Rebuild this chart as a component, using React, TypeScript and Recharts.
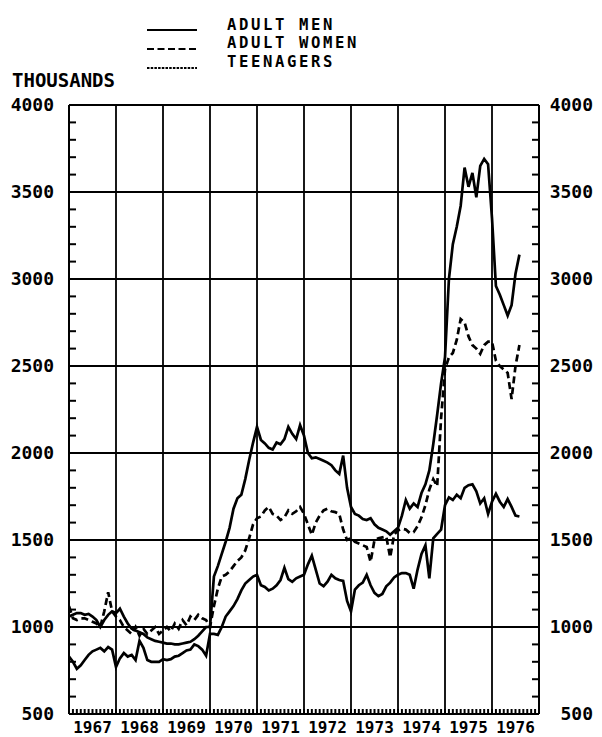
import { LineChart, Line, XAxis, YAxis, ReferenceLine } from "recharts";

// monthly series, Jan 1967 .. Aug 1976 (thousands)
const START_YEAR = 1967;
const END_YEAR = 1977;

const ADULT_MEN = [
  1060, 1070, 1080, 1080, 1070, 1075, 1060, 1040, 1000, 1040, 1070, 1090,
  1080, 1105, 1060, 1020, 990, 980, 970, 960, 940, 930, 920, 915,
  910, 905, 905, 900, 900, 905, 910, 915, 930, 950, 975, 1000,
  1000, 1290, 1350, 1420, 1490, 1570, 1680, 1740, 1760, 1850, 1960, 2060,
  2150, 2075, 2055, 2030, 2020, 2060, 2050, 2080, 2150, 2110, 2080, 2160,
  2100, 2000, 1970, 1975, 1965, 1955, 1945, 1930, 1900, 1880, 1985, 1800,
  1690, 1650, 1640, 1620, 1615, 1625, 1590, 1570, 1560, 1550, 1530, 1550,
  1570, 1640, 1730, 1680, 1710, 1690, 1770, 1820, 1900, 2050, 2220, 2400,
  2550, 3000, 3200, 3300, 3420, 3640, 3530, 3610, 3470, 3650, 3690, 3660,
  3350, 2960, 2910, 2850, 2790, 2850, 3030, 3140,
];

const ADULT_WOMEN = [
  1120, 1050, 1040, 1050, 1050, 1040, 1030, 1020, 1000, 1090, 1200, 1090,
  1060, 1040, 1000, 980, 960, 1000, 950, 990, 960, 980, 1000, 960,
  980, 1000, 975, 1020, 990, 1040, 1010, 1060, 1040, 1070, 1050, 1040,
  1000, 1120, 1220, 1290, 1300, 1320, 1350, 1380, 1400, 1440, 1510, 1590,
  1625, 1635, 1670, 1690, 1650, 1640, 1615, 1630, 1670, 1650, 1665, 1690,
  1650, 1590, 1530, 1600, 1640, 1670, 1680, 1665, 1660, 1650, 1560, 1500,
  1510, 1490, 1480, 1470, 1460, 1375, 1500, 1510, 1515, 1520, 1400, 1530,
  1555, 1565, 1560, 1540, 1545, 1580, 1630, 1700, 1790, 1850, 1810, 2200,
  2480, 2550, 2575, 2650, 2770, 2750, 2670, 2620, 2600, 2570, 2620, 2640,
  2640, 2530, 2500, 2480, 2460, 2310, 2500, 2620,
];

const TEENAGERS = [
  830, 800, 760, 780, 810, 840, 860, 870, 880, 860, 885, 870,
  770, 820, 850, 830, 840, 810, 920, 880, 810, 800, 800, 800,
  815, 810, 815, 830, 835, 850, 865, 870, 900, 890, 870, 835,
  960, 960, 955, 1000, 1060, 1090, 1120, 1160, 1210, 1250, 1270, 1290,
  1300, 1240, 1230, 1210, 1220, 1240, 1270, 1340, 1275, 1260, 1280, 1290,
  1300, 1360, 1410, 1330, 1250, 1235, 1260, 1300, 1280, 1270, 1265, 1150,
  1090, 1215, 1240, 1255, 1300, 1240, 1196, 1177, 1190, 1234, 1255, 1285,
  1300, 1310, 1310, 1300, 1220, 1330, 1420, 1470, 1280, 1510, 1535, 1560,
  1700, 1745, 1730, 1760, 1740, 1800, 1815, 1820, 1780, 1710, 1740, 1650,
  1720, 1765, 1720, 1690, 1735, 1690, 1640, 1635,
];

const YEAR_LINES = [1968, 1969, 1970, 1971, 1972, 1973, 1974, 1975, 1976];
const VALUE_LINES = [1000, 1500, 2000, 2500, 3000, 3500, 4000];
const Y_MIN = 500;
const Y_MAX = 4000;

const LEGEND = [
  { label: "ADULT MEN", dash: undefined },
  { label: "ADULT WOMEN", dash: "7 3.5" },
  { label: "TEENAGERS", dash: "2.5 1.2" },
];

const FONT = "'DejaVu Sans Mono', 'Liberation Mono', monospace";

// inward tick lengths in px (negative = pointing into the plot)
const SIDE_TICK = -7;
const MONTH_TICK = -5;

const data = ADULT_MEN.map((men, i) => ({
  t: START_YEAR + i / 12,
  men,
  women: ADULT_WOMEN[i],
  teen: TEENAGERS[i],
}));

const allMonths = Array.from(
  { length: (END_YEAR - START_YEAR) * 12 + 1 },
  (_, i) => START_YEAR + i / 12,
);
const monthOf = (t: number) => Math.round((t - START_YEAR) * 12) % 12;

const allValues = Array.from(
  { length: (Y_MAX - Y_MIN) / 100 + 1 },
  (_, i) => Y_MIN + i * 100,
);

const YearLabel = (props: any) => {
  const { x, y, payload } = props;
  if (monthOf(payload.value) !== 6) return <g />;
  return (
    <text
      x={x}
      y={y - MONTH_TICK + 8}
      dy="0.71em"
      textAnchor="middle"
      fontFamily={FONT}
      fontWeight="bold"
      fontSize={16}
      fill="#000"
    >
      {Math.floor(payload.value)}
    </text>
  );
};

const ValueLabel = (props: any) => {
  const { x, y, payload, side } = props;
  if (payload.value % 500 !== 0) return <g />;
  return (
    <text
      x={side === "left" ? x + SIDE_TICK - 15 : x - SIDE_TICK + 54}
      y={y}
      dy="0.36em"
      textAnchor="end"
      fontFamily={FONT}
      fontWeight="bold"
      fontSize={18}
      fill="#000"
    >
      {payload.value}
    </text>
  );
};

const axisProps = { xAxisId: "x", yAxisId: "left" };
const tickStroke = { stroke: "#000", strokeWidth: 2 };

export default function App() {
  return (
    <div style={{ position: "relative", width: 602, height: 737, background: "#fff" }}>
      <style>{"body{margin:0}"}</style>
      <LineChart
        width={602}
        height={737}
        data={data}
        margin={{ top: 105, right: 0, bottom: 0, left: 0 }}
      >
        <XAxis
          xAxisId="x"
          dataKey="t"
          type="number"
          domain={[START_YEAR, END_YEAR]}
          ticks={allMonths}
          interval={0}
          tickSize={MONTH_TICK}
          tickMargin={0}
          tickLine={tickStroke}
          tick={<YearLabel />}
          axisLine={{ stroke: "#000", strokeWidth: 2 }}
          height={23}
          allowDataOverflow
        />
        <YAxis
          yAxisId="left"
          orientation="left"
          type="number"
          domain={[Y_MIN, Y_MAX]}
          ticks={allValues}
          interval={0}
          tickSize={SIDE_TICK}
          tickMargin={0}
          tickLine={tickStroke}
          tick={<ValueLabel side="left" />}
          axisLine={{ stroke: "#000", strokeWidth: 2 }}
          width={69}
          allowDataOverflow
        />
        <YAxis
          yAxisId="right"
          orientation="right"
          type="number"
          domain={[Y_MIN, Y_MAX]}
          ticks={allValues}
          interval={0}
          tickSize={SIDE_TICK}
          tickMargin={0}
          tickLine={tickStroke}
          tick={<ValueLabel side="right" />}
          axisLine={{ stroke: "#000", strokeWidth: 2 }}
          width={63}
          allowDataOverflow
        />

        {/* grid */}
        {YEAR_LINES.map((yr) => (
          <ReferenceLine key={`yr-${yr}`} {...axisProps} x={yr} stroke="#000" strokeWidth={1.8} />
        ))}
        {VALUE_LINES.map((v) => (
          <ReferenceLine
            key={`v-${v}`}
            {...axisProps}
            y={v}
            stroke="#000"
            strokeWidth={v === Y_MAX ? 2 : 1.8}
          />
        ))}

        <Line
          {...axisProps}
          type="linear"
          dataKey="men"
          stroke="#000"
          strokeWidth={2.7}
          dot={false}
          isAnimationActive={false}
        />
        <Line
          {...axisProps}
          type="linear"
          dataKey="women"
          stroke="#000"
          strokeWidth={2.7}
          strokeDasharray="7 4"
          dot={false}
          isAnimationActive={false}
        />
        <Line
          {...axisProps}
          type="linear"
          dataKey="teen"
          stroke="#000"
          strokeWidth={2.7}
          dot={false}
          isAnimationActive={false}
        />
      </LineChart>

      {/* legend and unit label sit above the plot */}
      <svg
        width={602}
        height={100}
        style={{ position: "absolute", left: 0, top: 0, pointerEvents: "none" }}
      >
        {LEGEND.map((item, i) => (
          <g key={item.label}>
            <line
              x1={147}
              x2={197}
              y1={30 + i * 19}
              y2={30 + i * 19}
              stroke="#000"
              strokeWidth={2}
              strokeDasharray={item.dash}
            />
            <text
              x={227}
              y={30 + i * 18.4}
              fontFamily={FONT}
              fontWeight="bold"
              fontSize={15.6}
              letterSpacing={2.6}
              fill="#000"
            >
              {item.label}
            </text>
          </g>
        ))}
        <text x={12} y={87} fontFamily={FONT} fontWeight="bold" fontSize={19} fill="#000">
          THOUSANDS
        </text>
      </svg>
    </div>
  );
}
